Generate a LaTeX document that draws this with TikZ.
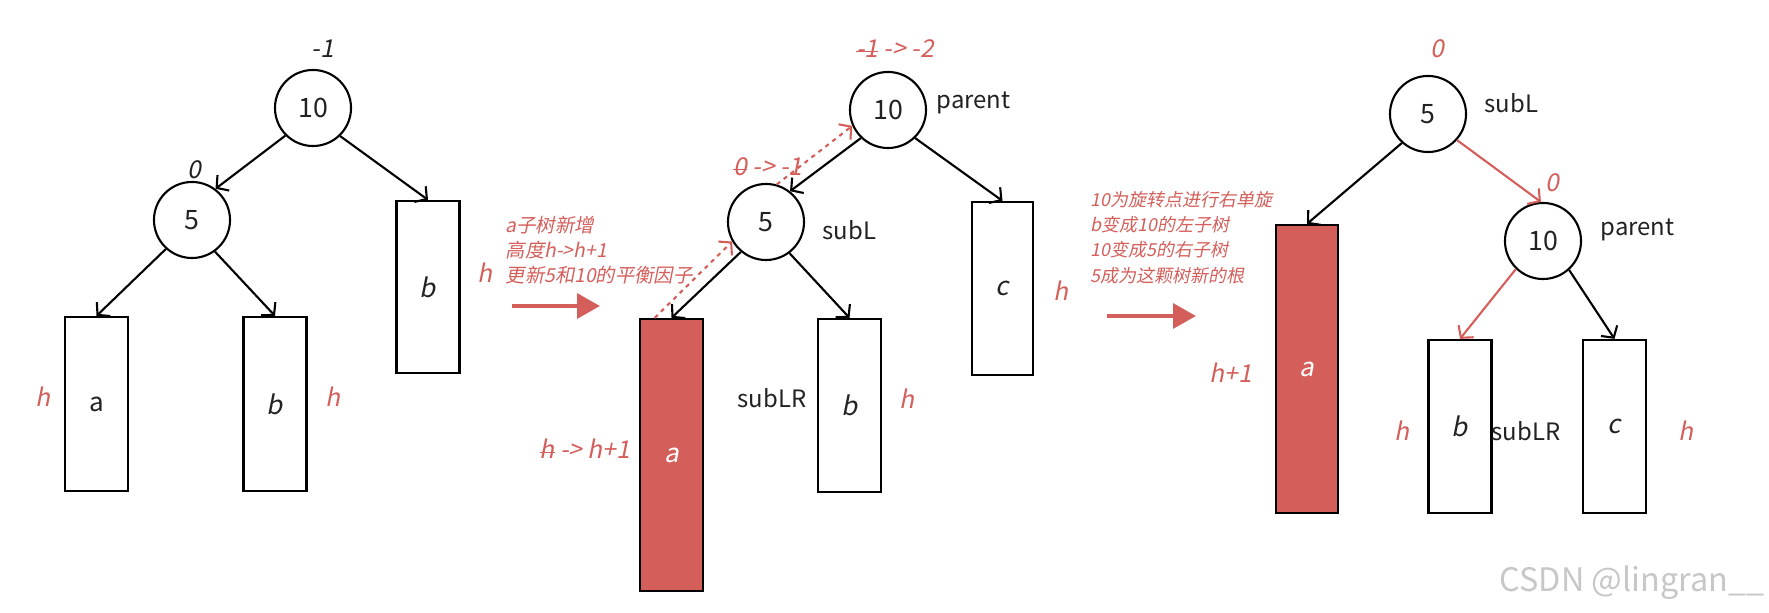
\documentclass[tikz,border=0pt]{standalone}
\usepackage{fontspec}
\setmainfont{Noto Sans CJK SC}
\newfontfamily\itfont[FakeSlant=0.2]{Noto Sans CJK SC}
\usetikzlibrary{arrows.meta}
\definecolor{myred}{RGB}{212,94,90}
\definecolor{ink}{RGB}{34,34,34}
\newsavebox\strkbox
\newcommand\strk[1]{\sbox\strkbox{#1}\rlap{\rule[0.42ex]{\wd\strkbox}{0.45pt}}\usebox\strkbox}
\tikzset{
  tn/.style={circle, draw=black, line width=0.6pt, minimum size=0.76cm, inner sep=0pt,
             font=\fontsize{7.6}{9}\selectfont, text=ink},
  sub/.style={rectangle, draw=black, line width=0.6pt, minimum width=0.63cm, inner sep=0pt,
              fill=white, font=\fontsize{7.4}{9}\selectfont, text=ink},
  redsub/.style={sub, fill=myred, text=white},
  lbl/.style={font=\fontsize{6.8}{8}\selectfont, text=ink, inner sep=0pt},
  itl/.style={font=\fontsize{7.0}{8}\selectfont\itfont, text=ink, inner sep=0pt},
  redl/.style={itl, text=myred},
  note/.style={font=\fontsize{5.1}{7}\selectfont\itfont, text=myred, inner sep=0pt, anchor=west},
  bignote/.style={note, font=\fontsize{5.5}{7}\selectfont\itfont},
  edge/.style={line width=0.6pt, -{Straight Barb[length=2.4pt,width=5.5pt]}},
  rededge/.style={edge, draw=myred},
  dotedge/.style={rededge, dash pattern=on 1.2pt off 1.3pt},
  bigarrow/.style={draw=myred, line width=1.2pt, -{Triangle[length=6.5pt,width=7pt]}},
}
\begin{document}
\begin{tikzpicture}[x=0.01cm, y=-0.01cm]
\useasboundingbox (0,0) rectangle (1769,613);

% ---------- panel 1 ----------
\node[tn] (p1n10) at (313,108) {10};
\node[tn] (p1n5) at (192,220) {5};
\node[sub, minimum height=1.74cm] (p1a) at (96.5,404) {a};
\node[sub, minimum height=1.74cm] (p1b) at (275,404) {\itfont b};
\node[sub, minimum height=1.72cm] (p1c) at (428,287) {\itfont b};
\node[itl] (p1l10) at (323,49) {-1};
\node[itl] (p1l5) at (194,170) {0};
\node[redl] (p1ha) at (43,397) {h};
\node[redl] (p1hb) at (333,397) {h};
\node[redl] (p1hc) at (485,273) {h};
\draw[edge] (p1n10.-135) -- (p1n5.53);
\draw[edge] (p1n10.-46) -- (p1c.north);
\draw[edge] (p1n5.-132) -- (p1a.north);
\draw[edge] (p1n5.-54) -- (p1b.north);

% annotation + arrow 1
\node[bignote] (t1a) at (505,225) {a子树新增};
\node[bignote] (t1b) at (505,250) {高度h->h+1};
\node[bignote] (t1c) at (505,275) {更新5和10的平衡因子};
\coordinate (ar1s) at (512,306);
\coordinate (ar1e) at (600,306);
\draw[bigarrow] (ar1s) -- (ar1e);

% ---------- panel 2 ----------
\node[tn] (p2n10) at (888,110) {10};
\node[tn] (p2n5) at (766,222) {5};
\node[redsub, minimum height=2.72cm] (p2a) at (671.5,455) {\itfont a};
\node[sub, minimum height=1.73cm] (p2b) at (849.5,405.5) {\itfont b};
\node[sub, minimum height=1.73cm, minimum width=0.61cm] (p2c) at (1002.5,288.5) {\itfont c};
\node[redl] (p2l10) at (895,49) {\strk{-1} -> -2};
\node[redl] (p2l5) at (768,167) {\strk{0} -> -1};
\node[lbl, anchor=west] (p2par) at (936,103) {parent};
\node[lbl, anchor=west] (p2subl) at (822,230) {subL};
\node[lbl] (p2sublr) at (772,398) {subLR};
\node[redl] (p2ha) at (585,449) {\strk{h} -> h+1};
\node[redl] (p2hb) at (907,399) {h};
\node[redl] (p2hc) at (1061,291) {h};
\draw[edge] (p2n10.-134) -- (p2n5.52);
\draw[edge] (p2n10.-46) -- (p2c.north);
\draw[edge] (p2n5.-130) -- (p2a.north);
\draw[edge] (p2n5.-53) -- (p2b.north);
\draw[dotedge] (p2a.97) -- (p2n5.210);
\draw[dotedge] (p2n5.74) -- (p2n10.204);

% annotation + arrow 2
\node[note] (t2a) at (1090,200) {10为旋转点进行右单旋};
\node[note] (t2b) at (1090,225) {b变成10的左子树};
\node[note] (t2c) at (1090,250) {10变成5的右子树};
\node[note] (t2d) at (1090,276) {5成为这颗树新的根};
\coordinate (ar2s) at (1107,316);
\coordinate (ar2e) at (1196,316);
\draw[bigarrow] (ar2s) -- (ar2e);

% ---------- panel 3 ----------
\node[tn] (p3n5) at (1428,114) {5};
\node[tn] (p3n10) at (1543,241) {10};
\node[redsub, minimum height=2.88cm, minimum width=0.62cm] (p3a) at (1307,369) {\itfont a};
\node[sub, minimum height=1.73cm] (p3b) at (1460,426.5) {\itfont b};
\node[sub, minimum height=1.73cm] (p3c) at (1614.5,426.5) {\itfont c};
\node[redl] (p3l5) at (1437,49) {0};
\node[redl] (p3l10) at (1552,183) {0};
\node[lbl, anchor=west] (p3subl) at (1484,103) {subL};
\node[lbl, anchor=west] (p3par) at (1600,230) {parent};
\node[lbl] (p3sublr) at (1526,431) {subLR};
\node[redl] (p3ha) at (1231,373) {h+1};
\node[redl] (p3hb) at (1402,431) {h};
\node[redl] (p3hc) at (1686,431) {h};
\draw[edge] (p3n5.-132) -- (p3a.north);
\draw[rededge] (p3n5.-42) -- (p3n10.93);
\draw[rededge] (p3n10.-134) -- (p3b.north);
\draw[edge] (p3n10.-48) -- (p3c.north);

% watermark
\node[font=\fontsize{9.2}{11}\selectfont, text=black!22, inner sep=0pt] (wm) at (1632,583) {CSDN @lingran\_\_};
\end{tikzpicture}
\end{document}
